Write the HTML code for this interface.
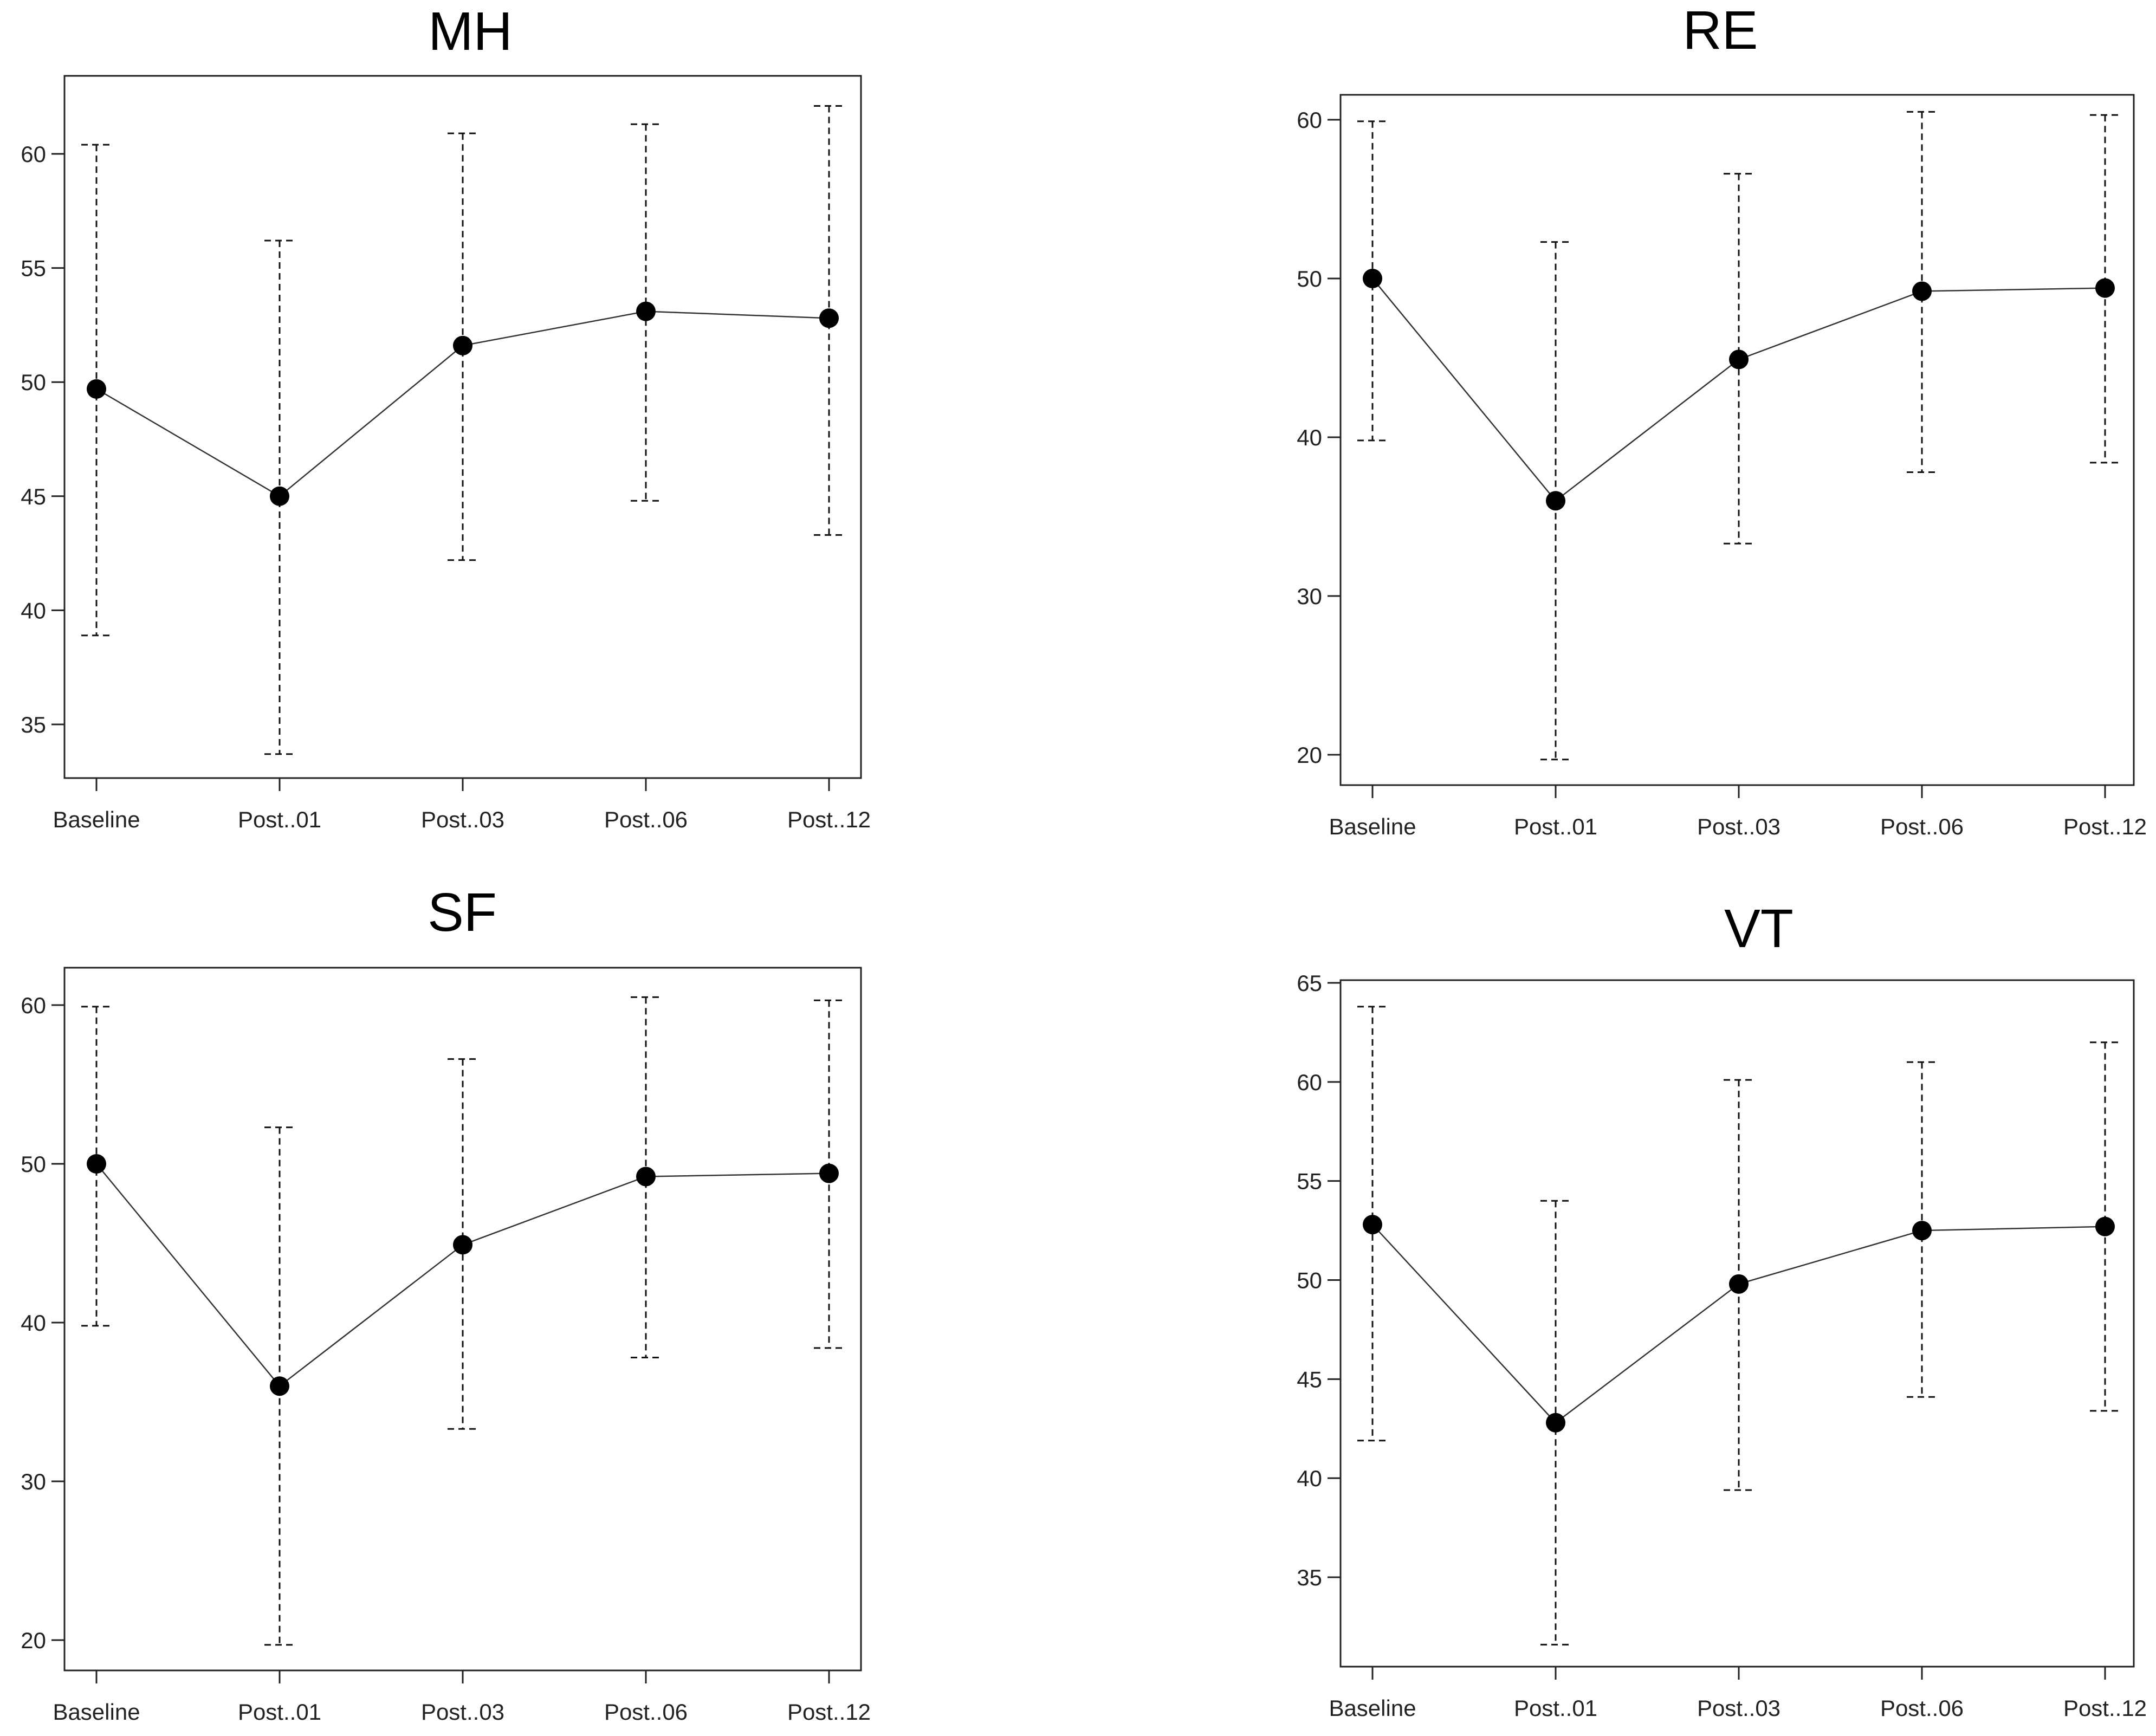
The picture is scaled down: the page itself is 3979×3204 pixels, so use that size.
<!DOCTYPE html>
<html><head><meta charset="utf-8"><style>
html,body{margin:0;padding:0;background:#fff;}
svg{display:block;font-family:"Liberation Sans",Arial,sans-serif;}
</style></head><body>
<svg id="chart" width="3979" height="3204" viewBox="0 0 3979 3204" xmlns="http://www.w3.org/2000/svg"></svg>
<script>
const categories = ["Baseline","Post..01","Post..03","Post..06","Post..12"];
const mhMean = [49.7,45.0,51.6,53.1,52.8];
const mhUpper = [60.4,56.2,60.9,61.3,62.1];
const mhLower = [38.9,33.7,42.2,44.8,43.3];
const mhTicks = [35,40,45,50,55,60];
const reMean = [50.0,36.0,44.9,49.2,49.4];
const reUpper = [59.9,52.3,56.6,60.5,60.3];
const reLower = [39.8,19.7,33.3,37.8,38.4];
const reTicks = [20,30,40,50,60];
const sfMean = [50.0,36.0,44.9,49.2,49.4];
const sfUpper = [59.9,52.3,56.6,60.5,60.3];
const sfLower = [39.8,19.7,33.3,37.8,38.4];
const sfTicks = [20,30,40,50,60];
const vtMean = [52.8,42.8,49.8,52.5,52.7];
const vtUpper = [63.8,54.0,60.1,61.0,62.0];
const vtLower = [41.9,31.6,39.4,44.1,43.4];
const vtTicks = [35,40,45,50,55,60,65];

const NS="http://www.w3.org/2000/svg";
const svg=document.getElementById('chart');
function mk(tag,attrs,parent){const e=document.createElementNS(NS,tag);for(const k in attrs)e.setAttribute(k,attrs[k]);(parent||svg).appendChild(e);return e;}

function panel(cfg){
  const g=mk('g',{});
  
  
  const {L,R,T,B,xs,v1,y1,v2,y2}=cfg;
  const yS=v=>y1+(v-v1)*(y2-y1)/(v2-v1);
  const xS=i=>xs[0]+i*(xs[1]-xs[0]);
  const t=mk('text',{x:cfg.titleX,y:cfg.titleY,'text-anchor':'middle','font-size':100,fill:'#000'},g);
  t.textContent=cfg.title;
  
  
  const box=mk('rect',{x:L,y:T,width:R-L,height:B-T,fill:'none',stroke:'#222','stroke-width':3},g);
  
  
  cfg.ticks.forEach(v=>{
    const y=yS(v);
    mk('line',{x1:L-24,x2:L,y1:y,y2:y,stroke:'#222','stroke-width':3},g);
    const tx=mk('text',{x:L-34,y:y+15,'text-anchor':'end','font-size':42,fill:'#222'},g);
    tx.textContent=v;
    
    
  });
  categories.forEach((c,i)=>{
    const x=xS(i);
    mk('line',{x1:x,x2:x,y1:B,y2:B+24,stroke:'#222','stroke-width':3},g);
    const tx=mk('text',{x:x,y:B+91,'text-anchor':'middle','font-size':42,fill:'#222'},g);
    tx.textContent=c;
    
    
  });
  const da='12,8';
  categories.forEach((c,i)=>{
    const x=xS(i), yu=yS(cfg.upper[i]), yl=yS(cfg.lower[i]);
    const eb=mk('line',{x1:x,x2:x,y1:yu,y2:yl,stroke:'#111','stroke-width':3,'stroke-dasharray':da},g);
    
    
    mk('line',{x1:x-28,x2:x+32,y1:yu,y2:yu,stroke:'#111','stroke-width':3,'stroke-dasharray':da},g);
    mk('line',{x1:x-28,x2:x+32,y1:yl,y2:yl,stroke:'#111','stroke-width':3,'stroke-dasharray':da},g);
  });
  const pts=cfg.mean.map((v,i)=>xS(i)+','+yS(v)).join(' ');
  const pl=mk('polyline',{points:pts,fill:'none',stroke:'#333','stroke-width':2.5},g);
  
  
  cfg.mean.forEach((v,i)=>{
    const p=mk('circle',{cx:xS(i),cy:yS(v),r:18,fill:'#000'},g);
    
    
  });
}

panel({key:'mh',title:'MH',titleX:868,titleY:92,L:119,R:1589,T:140,B:1436,xs:[178,516],v1:60,y1:284,v2:35,y2:1337,ticks:mhTicks,mean:mhMean,upper:mhUpper,lower:mhLower});
panel({key:'re',title:'RE',titleX:3175,titleY:90,L:2474,R:3938,T:175,B:1449,xs:[2533,2871],v1:60,y1:221,v2:20,y2:1393,ticks:reTicks,mean:reMean,upper:reUpper,lower:reLower});
panel({key:'sf',title:'SF',titleX:853,titleY:1718,L:119,R:1589,T:1786,B:3083,xs:[178,516],v1:60,y1:1855,v2:20,y2:3027,ticks:sfTicks,mean:sfMean,upper:sfUpper,lower:sfLower});
panel({key:'vt',title:'VT',titleX:3246,titleY:1748,L:2474,R:3938,T:1809,B:3076,xs:[2533,2871],v1:65,y1:1814,v2:35,y2:2911,ticks:vtTicks,mean:vtMean,upper:vtUpper,lower:vtLower});
</script>
</body></html>
